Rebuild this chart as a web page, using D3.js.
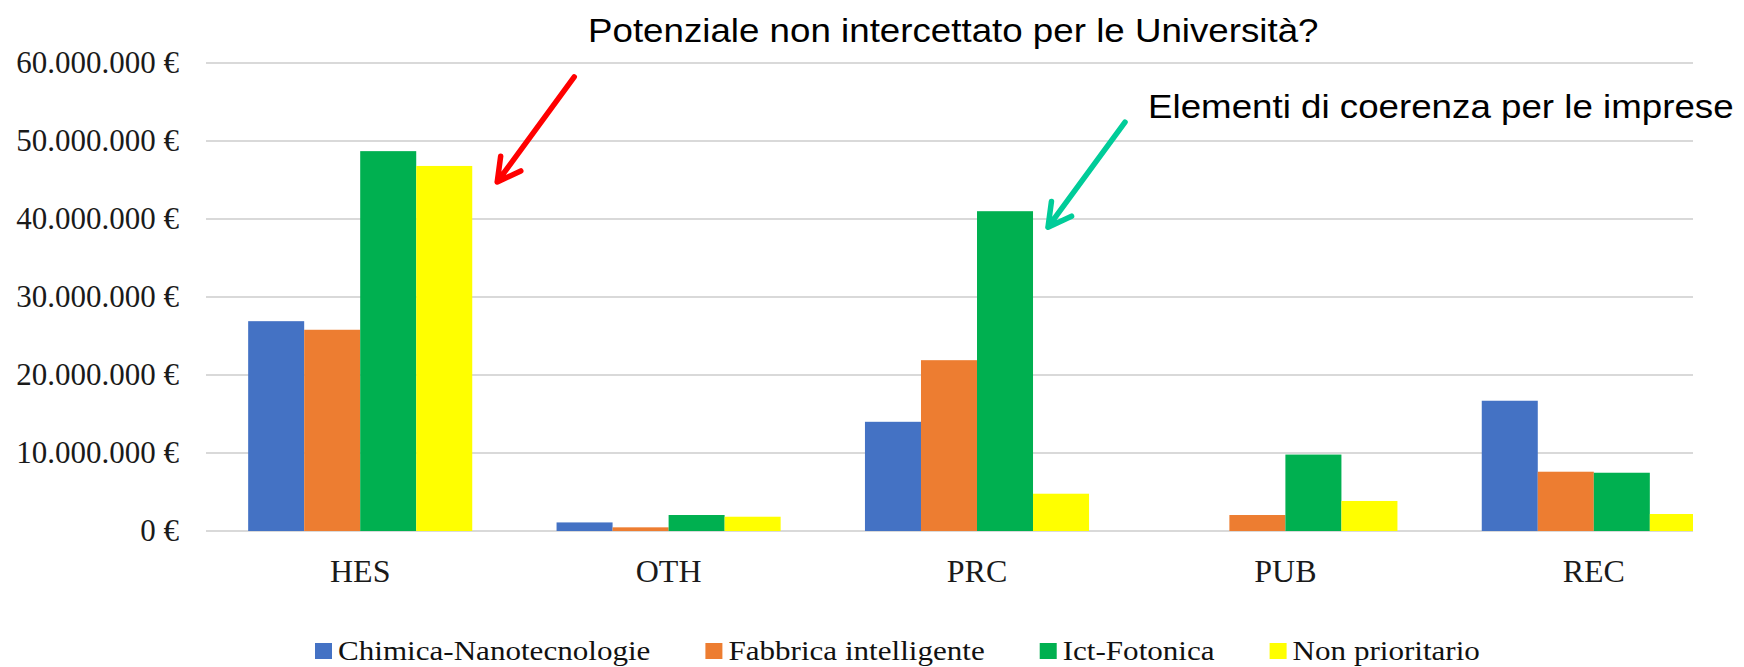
<!DOCTYPE html>
<html>
<head>
<meta charset="utf-8">
<script src="https://cdn.jsdelivr.net/npm/d3@7"></script>
<style>
    body { margin: 0; background: #fff; }
    svg { display: block; }
    .tick text { font-family: "Liberation Serif", "Times New Roman", serif; fill: #1a1a1a; }
    .grid line { stroke: #d9d9d9; stroke-width: 2; }
    .note { font-family: "Liberation Sans", Arial, sans-serif; fill: #000; }
</style>
</head>
<body>
<svg id="chart" width="1744" height="667"></svg>
<script>
// data (euro)
let categories = ["HES", "OTH", "PRC", "PUB", "REC"];
let seriesNames = ["Chimica-Nanotecnologie", "Fabbrica intelligente", "Ict-Fotonica", "Non prioritario"];
let seriesColors = ["#4472C4", "#ED7D31", "#00B050", "#FFFF00"];
let chimica = [26900000, 1100000, 14000000, 0, 16700000];
let fabbrica = [25800000, 470000, 21900000, 2050000, 7600000];
let ictFotonica = [48700000, 2050000, 41000000, 9800000, 7470000];
let nonPrioritario = [46800000, 1830000, 4780000, 3850000, 2180000];
let yTicks = [0, 10000000, 20000000, 30000000, 40000000, 50000000, 60000000];

let notes = [
    {text: "Potenziale non intercettato per le Università?", cat: "HES", serie: 3, color: "#FF0000"},
    {text: "Elementi di coerenza per le imprese", cat: "PRC", serie: 2, color: "#00CC99"}
];

let series = [chimica, fabbrica, ictFotonica, nonPrioritario];

let svg = d3.select("#chart");
let margin = {left: 206, top: 63, bottom: 531};
let plotRight = 1748;   // plot goes on past the picture edge
let clipRight = 1693;

let x = d3.scaleBand()
    .domain(categories)
    .range([margin.left, plotRight])
    .paddingInner(0.2734)
    .paddingOuter(0.1367);

let xs = d3.scaleBand()
    .domain(d3.range(series.length))
    .range([0, x.bandwidth()]);

let y = d3.scaleLinear()
    .domain([0, 60000000])
    .range([margin.bottom, margin.top]);

let it = d3.formatLocale({decimal: ",", thousands: ".", grouping: [3], currency: ["", " €"]});
let fmt = it.format(",");

svg.append("clipPath").attr("id", "plotClip")
    .append("rect")
    .attr("x", margin.left).attr("y", 0)
    .attr("width", clipRight - margin.left).attr("height", 667);

//gridlines
let grid = svg.append("g").attr("class", "grid").attr("clip-path", "url(#plotClip)");
grid.selectAll("line")
    .data(yTicks)
    .enter().append("line")
    .attr("x1", margin.left).attr("x2", plotRight)
    .attr("y1", d => y(d)).attr("y2", d => y(d));

//y axis labels
let yAxis = svg.append("g")
    .attr("transform", "translate(" + margin.left + ",0)")
    .call(d3.axisLeft(y).tickValues(yTicks).tickSize(0).tickPadding(27)
        .tickFormat(d => fmt(d) + " €"));
yAxis.select(".domain").remove();
yAxis.selectAll("text").style("font-size", "31px");

//bars
let bars = svg.append("g").attr("clip-path", "url(#plotClip)");
categories.forEach(function (c, i) {
    let g = bars.append("g").attr("transform", "translate(" + x(c) + ",0)");
    g.selectAll("rect")
        .data(series.map((s, k) => ({k: k, v: s[i]})))
        .enter().append("rect")
        .attr("x", d => xs(d.k))
        .attr("y", d => y(d.v))
        .attr("width", xs.bandwidth())
        .attr("height", d => y(0) - y(d.v))
        .attr("fill", d => seriesColors[d.k]);
});

//category labels
let xAxis = svg.append("g")
    .attr("transform", "translate(0," + margin.bottom + ")")
    .call(d3.axisBottom(x).tickSize(0).tickPadding(28));
xAxis.select(".domain").remove();
xAxis.selectAll("text").style("font-size", "32px");

//legend
let legend = svg.append("g").attr("transform", "translate(315,660)");
let lx = 0;
seriesNames.forEach(function (name, k) {
    let item = legend.append("g").attr("transform", "translate(" + lx + ",0)");
    item.append("rect")
        .attr("x", 0).attr("y", -17)
        .attr("width", 17).attr("height", 16)
        .attr("fill", seriesColors[k]);
    let t = item.append("text")
        .attr("transform", "translate(23,0) scale(1.11,1)")
        .style("font-family", "'Liberation Serif', 'Times New Roman', serif")
        .style("font-size", "28px")
        .attr("fill", "#111")
        .text(name);
    lx += 23 + t.node().getComputedTextLength() * 1.11 + 55;
});

//annotations with arrows
let arrowVec = [77, -105];
notes.forEach(function (n, i) {
    let dat = series[n.serie][categories.indexOf(n.cat)];
    let tip = [x(n.cat) + xs(n.serie) + xs.bandwidth() + (i === 0 ? 25 : 15), y(dat) + 16];
    let tail = [tip[0] + arrowVec[0], tip[1] + arrowVec[1]];
    let ang = Math.atan2(arrowVec[1], arrowVec[0]);
    let wing = 26, spread = 0.5;
    let w1 = [tip[0] + wing * Math.cos(ang - spread), tip[1] + wing * Math.sin(ang - spread)];
    let w2 = [tip[0] + wing * Math.cos(ang + spread), tip[1] + wing * Math.sin(ang + spread)];
    svg.append("path")
        .attr("d", "M" + tail + "L" + tip + "M" + w1 + "L" + tip + "L" + w2)
        .attr("fill", "none")
        .attr("stroke", n.color)
        .attr("stroke-width", 5.5)
        .attr("stroke-linecap", "round")
        .attr("stroke-linejoin", "round");
});

svg.append("text").attr("class", "note")
    .attr("transform", "translate(588,42) scale(1.08,1)")
    .style("font-size", "34px")
    .text(notes[0].text);

svg.append("text").attr("class", "note")
    .attr("transform", "translate(1148,118) scale(1.08,1)")
    .style("font-size", "34px")
    .text(notes[1].text);
</script>
</body>
</html>
